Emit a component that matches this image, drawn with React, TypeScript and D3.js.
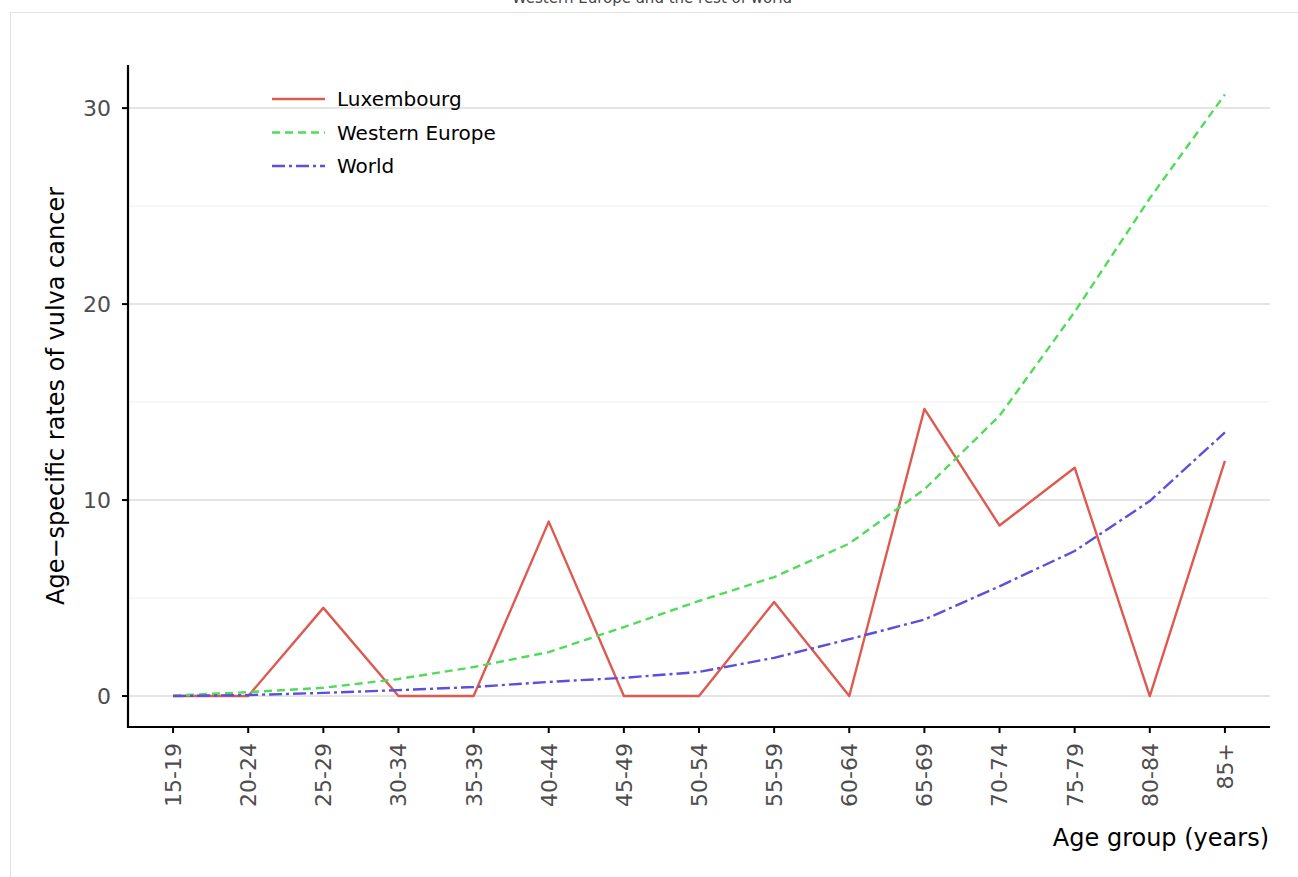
import React from "react";
import * as d3 from "d3";

const ageGroups = ["15-19","20-24","25-29","30-34","35-39","40-44","45-49","50-54","55-59","60-64","65-69","70-74","75-79","80-84","85+"];
const luxembourg = [0, 0, 4.5, 0, 0, 8.9, 0, 0, 4.8, 0, 14.65, 8.7, 11.65, 0, 12.0];
const westernEurope = [0.02, 0.2, 0.42, 0.87, 1.48, 2.24, 3.52, 4.85, 6.07, 7.78, 10.55, 14.3, 19.6, 25.4, 30.7];
const world = [0.0, 0.05, 0.16, 0.3, 0.46, 0.72, 0.93, 1.23, 1.95, 2.9, 3.9, 5.6, 7.4, 9.95, 13.45];
const yTicks = [0, 10, 20, 30];
const yMinor = [5, 15, 25];

const seriesNames = ["Luxembourg", "Western Europe", "World"];
const seriesColors = ["#DE5A50", "#50DC5A", "#5A50DC"];
const seriesDash = ["none", "8,5", "13,4,3,4"];

export default function App() {
  const left = 128, right = 1270, top = 65, bottom = 727;
  const x = d3.scalePoint<string>().domain(ageGroups).range([left, right]).padding(0.6);
  const y = d3.scaleLinear().domain([-1.58, 32.2]).range([bottom, top]);
  const line = d3.line<number>().x((_, i) => x(ageGroups[i]) as number).y((d) => y(d));
  const seriesData = [luxembourg, westernEurope, world];
  const font = "DejaVu Sans, sans-serif";

  return (
    <div style={{ position: "absolute", left: 0, top: 0, width: 1298, height: 877 }}>
      <svg width={1298} height={877} style={{ display: "block" }} fontFamily={font}>
        <rect x={0} y={0} width={1298} height={877} fill="#fff" />
        <rect x={10.5} y={12.5} width={1300} height={900} fill="none" stroke="#e3e3e3" strokeWidth={1} />
        <text x={652} y={2.5} textAnchor="middle" fontSize={15} fill="#444">Western Europe and the rest of world</text>
        {yMinor.map((t) => (
          <line key={"m" + t} x1={left} x2={right} y1={y(t)} y2={y(t)} stroke="#f5f5f5" strokeWidth={1.5} />
        ))}
        {yTicks.map((t) => (
          <line key={"g" + t} x1={left} x2={right} y1={y(t)} y2={y(t)} stroke="#e5e5e5" strokeWidth={2} />
        ))}
        {seriesData.map((s, i) => (
          <path key={seriesNames[i]} d={line(s) || ""} fill="none" stroke={seriesColors[i]} strokeWidth={2.4}
            strokeDasharray={seriesDash[i]} strokeLinejoin="round" />
        ))}
        <line x1={left} x2={left} y1={top} y2={bottom + 1} stroke="#000" strokeWidth={2.2} />
        <line x1={left - 1} x2={right} y1={bottom} y2={bottom} stroke="#000" strokeWidth={2.2} />
        {yTicks.map((t) => (
          <g key={"yt" + t}>
            <line x1={left - 6} x2={left} y1={y(t)} y2={y(t)} stroke="#000" strokeWidth={2} />
            <text x={left - 17} y={y(t)} dy="0.36em" textAnchor="end" fontSize={22} fill="#4d4d4d">{t}</text>
          </g>
        ))}
        {ageGroups.map((a) => (
          <g key={"xt" + a}>
            <line x1={x(a)} x2={x(a)} y1={bottom} y2={bottom + 6} stroke="#000" strokeWidth={2} />
            <text transform={`translate(${(x(a) as number)},${bottom + 16}) rotate(-90)`} dy="0.36em" textAnchor="end"
              fontSize={22} fill="#4d4d4d">{a}</text>
          </g>
        ))}
        <text transform={`translate(55,${(top + bottom) / 2}) rotate(-90)`} textAnchor="middle" fontSize={24} fill="#000" dy="0.36em">
          Age−specific rates of vulva cancer
        </text>
        <text x={1269} y={846} textAnchor="end" fontSize={24} fill="#000">Age group (years)</text>
        {seriesNames.map((n, i) => (
          <g key={"lg" + n}>
            <line x1={272} x2={325} y1={99 + i * 33.5} y2={99 + i * 33.5} stroke={seriesColors[i]} strokeWidth={2.4}
              strokeDasharray={seriesDash[i]} />
            <text x={337} y={99 + i * 33.5} dy="0.36em" fontSize={20} fill="#000">{n}</text>
          </g>
        ))}
      </svg>
    </div>
  );
}
